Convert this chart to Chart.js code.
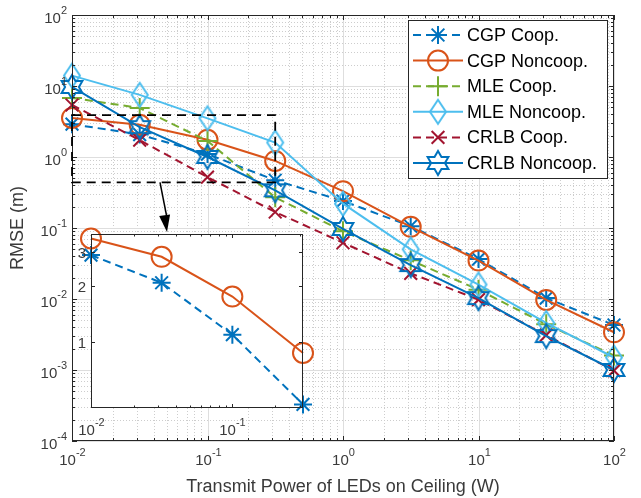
<!DOCTYPE html>
<html>
<head>
<meta charset="utf-8">
<script src="https://cdn.jsdelivr.net/npm/chart.js@4/dist/chart.umd.min.js"></script>
<style>
  html, body { margin: 0; padding: 0; background: #fff; }
  #wrap { position: relative; width: 641px; height: 498px; }
  #wrap canvas { position: absolute; left: 0; top: 0; }
</style>
</head>
<body>
<div id="wrap">
  <canvas id="main" width="641" height="498"></canvas>
  <canvas id="inset" width="641" height="498"></canvas>
</div>
<script>
// transmit power (W), logspace(-2, 2, 9)
const powers = [0.01, 0.0316, 0.1, 0.316, 1, 3.16, 10, 31.6, 100];

// RMSE (m)
const cgpCoop     = [2.9, 2.07, 1.1, 0.47, 0.24, 0.106, 0.0365, 0.0103, 0.0043];
const cgpNoncoop  = [3.55, 2.84, 1.75, 0.88, 0.33, 0.104, 0.0348, 0.0097, 0.0034];
const mleCoop     = [6.8, 4.9, 1.68, 0.27, 0.09, 0.035, 0.0135, 0.0044, 0.0016];
const mleNoncoop  = [14, 7.5, 3.5, 1.6, 0.22, 0.05, 0.016, 0.0046, 0.0015];
const crlbCoop    = [5.4, 1.73, 0.52, 0.168, 0.062, 0.023, 0.0098, 0.0031, 0.00098];
const crlbNoncoop = [9.7, 2.63, 1.0, 0.34, 0.097, 0.030, 0.0103, 0.0030, 0.0010];

const seriesNames = ['CGP Coop.', 'CGP Noncoop.', 'MLE Coop.', 'MLE Noncoop.', 'CRLB Coop.', 'CRLB Noncoop.'];
const seriesValues = [cgpCoop, cgpNoncoop, mleCoop, mleNoncoop, crlbCoop, crlbNoncoop];

// tick labels
const xTickExps = ['-2', '-1', '0', '1', '2'];
const yTickExps = ['-4', '-3', '-2', '-1', '0', '1', '2'];
const insetXTickExps = ['-2', '-1'];
const insetYTicks = ['1', '2', '3'];
const insetCount = 4;          // zoomed points (0.01 .. 0.316)
const zoomY = [0.44, 3.9];     // dashed box range

const xTitle = 'Transmit Power of LEDs on Ceiling (W)';
const yTitle = 'RMSE (m)';

const FONT = '"Liberation Sans", Arial, Helvetica, sans-serif';
const AXIS = '#262626';
const LABEL = '#3a3a3a';

const styles = [
  { color: '#0072BD', dash: [8, 5], marker: 'star', r: 9 },
  { color: '#D95319', dash: [], marker: 'circle', r: 10 },
  { color: '#77AC30', dash: [8, 5], marker: 'cross', r: 10 },
  { color: '#4DBEEE', dash: [], marker: 'diamond', r: 12 },
  { color: '#A2142F', dash: [8, 5], marker: 'crossRot', r: 9 },
  { color: '#0072BD', dash: [], marker: 'hexagram', r: 12 },
];

// markers chart.js does not have
function diamondImg(color) {
  const c = document.createElement('canvas');
  c.width = 22; c.height = 30;
  const g = c.getContext('2d');
  g.strokeStyle = color; g.lineWidth = 2; g.lineJoin = 'miter';
  g.beginPath();
  g.moveTo(11, 3); g.lineTo(19, 15); g.lineTo(11, 27); g.lineTo(3, 15);
  g.closePath(); g.stroke();
  return c;
}
function hexagramImg(color) {
  const c = document.createElement('canvas');
  c.width = 30; c.height = 30;
  const g = c.getContext('2d');
  const R = 12, r = R / Math.sqrt(3);
  g.strokeStyle = color; g.lineWidth = 2; g.lineJoin = 'miter';
  g.beginPath();
  for (let k = 0; k < 12; k++) {
    const a = (-90 + k * 30) * Math.PI / 180;
    const rr = k % 2 === 0 ? R : r;
    const px = 15 + rr * Math.cos(a), py = 15 + rr * Math.sin(a);
    if (k === 0) g.moveTo(px, py); else g.lineTo(px, py);
  }
  g.closePath(); g.stroke();
  return c;
}
styles.forEach(s => {
  if (s.marker === 'diamond') s.img = diamondImg(s.color);
  if (s.marker === 'hexagram') s.img = hexagramImg(s.color);
});

function makeDataset(i, n) {
  const s = styles[i];
  const vals = seriesValues[i].slice(0, n);
  return {
    label: seriesNames[i],
    data: vals.map((v, k) => ({ x: powers[k], y: v })),
    borderColor: s.color,
    borderWidth: 2,
    borderDash: s.dash,
    pointStyle: s.img || s.marker,
    pointRadius: s.r,
    pointBorderWidth: 2,
    pointBorderColor: s.color,
    pointBackgroundColor: 'rgba(0,0,0,0)',
    fill: false,
    tension: 0,
    clip: false,
    order: 10 - i,
  };
}

function logTicks(min, max) {
  const out = [];
  for (let e = Math.floor(Math.log10(min)); e <= Math.ceil(Math.log10(max)); e++) {
    for (let k = 1; k < 10; k++) {
      const v = k * Math.pow(10, e);
      if (v >= min * 0.999 && v <= max * 1.001) out.push({ v, major: k === 1 });
    }
  }
  return out;
}

function seg(ctx, x1, y1, x2, y2) {
  ctx.beginPath(); ctx.moveTo(x1, y1); ctx.lineTo(x2, y2); ctx.stroke();
}

function drawPow(ctx, x, y, exp, align, yBase, yExp) {
  ctx.font = '15px ' + FONT;
  const wb = ctx.measureText('10').width;
  ctx.font = '11px ' + FONT;
  const we = ctx.measureText(exp).width;
  const total = wb + we;
  const left = align === 'right' ? x - total : x - total / 2;
  ctx.fillStyle = LABEL;
  ctx.textAlign = 'left';
  ctx.textBaseline = 'middle';
  ctx.font = '15px ' + FONT;
  ctx.fillText('10', left, y + yBase);
  ctx.font = '11px ' + FONT;
  ctx.fillText(exp, left + wb, y + yExp);
}

function drawMarker(ctx, s, x, y) {
  ctx.save();
  ctx.setLineDash([]);
  if (s.img) {
    ctx.drawImage(s.img, x - s.img.width / 2, y - s.img.height / 2);
    ctx.restore();
    return;
  }
  ctx.strokeStyle = s.color;
  ctx.lineWidth = 2;
  const r = s.r;
  ctx.beginPath();
  let angles = [];
  if (s.marker === 'circle') ctx.arc(x, y, r, 0, Math.PI * 2);
  if (s.marker === 'star') angles = [0, 45, 90, 135];
  if (s.marker === 'cross') angles = [0, 90];
  if (s.marker === 'crossRot') angles = [45, 135];
  angles.forEach(d => {
    const a = d * Math.PI / 180;
    ctx.moveTo(x - r * Math.cos(a), y - r * Math.sin(a));
    ctx.lineTo(x + r * Math.cos(a), y + r * Math.sin(a));
  });
  ctx.stroke();
  ctx.restore();
}

function drawFrameTicks(ctx, a, xs, ys, major, minor) {
  ctx.strokeStyle = AXIS;
  ctx.lineWidth = 1;
  ctx.setLineDash([]);
  xs.forEach(t => {
    const len = t.major ? major : minor;
    seg(ctx, t.px, a.bottom, t.px, a.bottom - len);
    seg(ctx, t.px, a.top, t.px, a.top + len);
  });
  ys.forEach(t => {
    const len = t.major ? major : minor;
    seg(ctx, a.left, t.py, a.left + len, t.py);
    seg(ctx, a.right, t.py, a.right - len, t.py);
  });
  ctx.strokeRect(a.left + 0.5, a.top + 0.5, a.right - a.left - 1, a.bottom - a.top - 1);
}

const mainDecor = {
  id: 'mainDecor',
  beforeDatasetsDraw(chart) {
    const { ctx, chartArea: a, scales: { x, y } } = chart;
    ctx.save();
    ctx.fillStyle = '#fff';
    ctx.fillRect(a.left, a.top, a.right - a.left, a.bottom - a.top);
    ctx.lineWidth = 1;
    const xt = logTicks(x.min, x.max), yt = logTicks(y.min, y.max);
    ctx.setLineDash([1, 2]);
    ctx.strokeStyle = '#cdcdcd';
    xt.filter(t => !t.major).forEach(t => {
      const px = Math.round(x.getPixelForValue(t.v)) + 0.5;
      seg(ctx, px, a.top, px, a.bottom);
    });
    yt.filter(t => !t.major).forEach(t => {
      const py = Math.round(y.getPixelForValue(t.v)) + 0.5;
      seg(ctx, a.left, py, a.right, py);
    });
    ctx.setLineDash([]);
    ctx.strokeStyle = '#dedede';
    xt.filter(t => t.major).forEach(t => {
      const px = Math.round(x.getPixelForValue(t.v)) + 0.5;
      seg(ctx, px, a.top, px, a.bottom);
    });
    yt.filter(t => t.major).forEach(t => {
      const py = Math.round(y.getPixelForValue(t.v)) + 0.5;
      seg(ctx, a.left, py, a.right, py);
    });
    ctx.restore();
  },
  afterDatasetsDraw(chart) {
    const { ctx, chartArea: a, scales: { x, y } } = chart;
    ctx.save();
    const xt = logTicks(x.min, x.max).map(t => ({ ...t, px: Math.round(x.getPixelForValue(t.v)) + 0.5 }));
    const yt = logTicks(y.min, y.max).map(t => ({ ...t, py: Math.round(y.getPixelForValue(t.v)) + 0.5 }));
    drawFrameTicks(ctx, a, xt, yt, 5, 3);

    // tick labels
    xt.filter(t => t.major).forEach((t, i) => drawPow(ctx, t.px, a.bottom, xTickExps[i], 'center', 20, 12));
    yt.filter(t => t.major).forEach((t, i) => drawPow(ctx, a.left - 5, t.py, yTickExps[i], 'right', 3, -4.5));

    // axis titles
    ctx.fillStyle = LABEL;
    ctx.font = '18px ' + FONT;
    ctx.textAlign = 'center';
    ctx.textBaseline = 'middle';
    ctx.fillText(xTitle, (a.left + a.right) / 2, 487);
    ctx.save();
    ctx.translate(18, (a.top + a.bottom) / 2);
    ctx.rotate(-Math.PI / 2);
    ctx.fillText(yTitle, 0, 0);
    ctx.restore();

    // dashed zoom box
    const bx1 = x.getPixelForValue(powers[0]), bx2 = x.getPixelForValue(powers[insetCount - 1]);
    const by1 = y.getPixelForValue(zoomY[1]), by2 = y.getPixelForValue(zoomY[0]);
    ctx.strokeStyle = '#000';
    ctx.lineWidth = 1.8;
    ctx.setLineDash([9, 6]);
    ctx.strokeRect(bx1, by1, bx2 - bx1, by2 - by1);
    ctx.setLineDash([]);

    // arrow to inset
    const ax1 = 160, ay1 = by2, ax2 = 167, ay2 = 232;
    ctx.lineWidth = 1.5;
    seg(ctx, ax1, ay1, ax2, ay2 - 14);
    const ang = Math.atan2(ay2 - ay1, ax2 - ax1);
    ctx.fillStyle = '#000';
    ctx.beginPath();
    ctx.moveTo(ax2, ay2);
    ctx.lineTo(ax2 - 17 * Math.cos(ang) + 5.5 * Math.sin(ang), ay2 - 17 * Math.sin(ang) - 5.5 * Math.cos(ang));
    ctx.lineTo(ax2 - 17 * Math.cos(ang) - 5.5 * Math.sin(ang), ay2 - 17 * Math.sin(ang) + 5.5 * Math.cos(ang));
    ctx.closePath();
    ctx.fill();

    // legend
    const L = { x: 408, y: 20, w: 199, h: 158 };
    ctx.fillStyle = '#fff';
    ctx.fillRect(L.x, L.y, L.w, L.h);
    ctx.strokeStyle = AXIS;
    ctx.lineWidth = 1;
    ctx.strokeRect(L.x + 0.5, L.y + 0.5, L.w, L.h);
    seriesNames.forEach((name, i) => {
      const s = styles[i];
      const ry = 35 + i * 25.6;
      ctx.strokeStyle = s.color;
      ctx.lineWidth = 2;
      ctx.setLineDash(s.dash);
      seg(ctx, 413, ry, 463, ry);
      ctx.setLineDash([]);
      drawMarker(ctx, s, 438, ry);
      ctx.fillStyle = '#000';
      ctx.font = '18px ' + FONT;
      ctx.textAlign = 'left';
      ctx.textBaseline = 'middle';
      ctx.fillText(name, 467, ry + 1);
    });
    ctx.restore();
  }
};

const insetDecor = {
  id: 'insetDecor',
  beforeDatasetsDraw(chart) {
    const { ctx, chartArea: a } = chart;
    ctx.save();
    ctx.fillStyle = '#fff';
    ctx.fillRect(a.left, a.top, a.right - a.left, a.bottom - a.top);
    ctx.restore();
  },
  afterDatasetsDraw(chart) {
    const { ctx, chartArea: a, scales: { x, y } } = chart;
    ctx.save();
    const xt = logTicks(x.min, x.max).map(t => ({ ...t, px: Math.round(x.getPixelForValue(t.v)) + 0.5 }));
    const yt = insetYTicks.map(v => ({ v: +v, major: true, py: Math.round(y.getPixelForValue(+v)) + 0.5 }));
    drawFrameTicks(ctx, a, xt, yt, 4, 2.5);
    xt.filter(t => t.major).forEach((t, i) => drawPow(ctx, t.px, a.bottom, insetXTickExps[i], 'center', 23, 15));
    ctx.fillStyle = LABEL;
    ctx.font = '15px ' + FONT;
    ctx.textAlign = 'right';
    ctx.textBaseline = 'middle';
    yt.forEach((t, i) => ctx.fillText(insetYTicks[i], a.left - 5, t.py + 1));
    ctx.restore();
  }
};

const baseOptions = (padding, xr, yr) => ({
  responsive: false,
  animation: false,
  devicePixelRatio: 1,
  events: [],
  layout: { padding },
  plugins: { legend: { display: false }, tooltip: { enabled: false } },
  scales: {
    x: { type: 'logarithmic', min: xr[0], max: xr[1], display: false },
    y: { type: 'logarithmic', min: yr[0], max: yr[1], display: false },
  },
});

new Chart(document.getElementById('main'), {
  type: 'line',
  data: { datasets: seriesNames.map((_, i) => makeDataset(i, powers.length)) },
  options: baseOptions({ left: 72, top: 15, right: 27, bottom: 57 }, [0.01, 100], [1e-4, 100]),
  plugins: [mainDecor],
});

new Chart(document.getElementById('inset'), {
  type: 'line',
  data: { datasets: [makeDataset(0, insetCount), makeDataset(1, insetCount)] },
  options: baseOptions({ left: 91, top: 234, right: 338, bottom: 90 }, [powers[0], powers[insetCount - 1]], [0.45, 3.75]),
  plugins: [insetDecor],
});
</script>
</body>
</html>
